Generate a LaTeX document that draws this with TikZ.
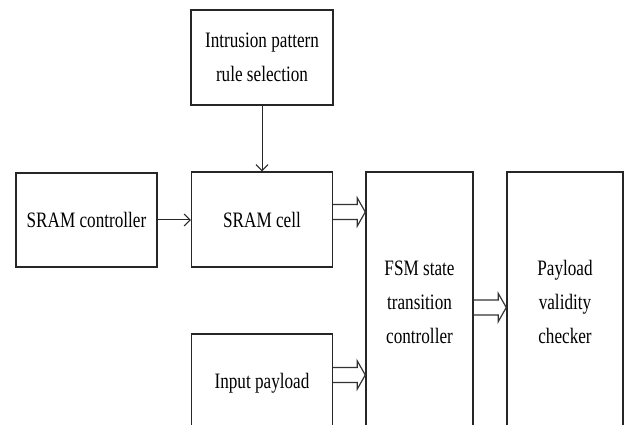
\documentclass[tikz,border=0pt]{standalone}
\usepackage{fontspec}
\setmainfont{Liberation Serif}[FakeStretch=0.78]
\usepackage{tikz}
\usetikzlibrary{positioning, arrows.meta}

\tikzset{
  block/.style={draw=black!85, line width=1.4pt, align=center, inner sep=0pt,
    font=\fontsize{22}{34}\selectfont},
  thinarrow/.style={draw=black!85, line width=1pt, -{Straight Barb[length=6pt,width=12pt]}},
  dblarrow/.style={draw=black!80, line width=1.2pt, line join=miter,
    to path={([yshift=7.5pt]\tikztostart) -- ([xshift=-8pt,yshift=7.5pt]\tikztotarget)
      -- ([xshift=-8pt,yshift=14pt]\tikztotarget) -- (\tikztotarget)
      -- ([xshift=-8pt,yshift=-14pt]\tikztotarget) -- ([xshift=-8pt,yshift=-7.5pt]\tikztotarget)
      -- ([yshift=-7.5pt]\tikztostart)}}
}

\begin{document}
\begin{tikzpicture}[x=1pt, y=-1pt]
  \clip (0,0) rectangle (625,425);
  \fill[white] (0,0) rectangle (625,425);

  % blocks
  \node[block, minimum width=142pt, minimum height=95pt] (rule) at (262,57.5) {Intrusion pattern\\rule selection};
  \node[block, minimum width=141pt, minimum height=94pt] (ctrl) at (86.5,220) {SRAM controller};
  \node[block, minimum width=141pt, minimum height=95pt] (cell) at (262,219.5) {SRAM cell};
  \node[block, minimum width=141pt, minimum height=98pt] (input) at (262,383) {Input payload};
  \node[block, minimum width=107pt, minimum height=260pt] (fsm) at (419.5,302) {FSM state\\transition\\controller};
  \node[block, minimum width=116pt, minimum height=260pt] (check) at (565,302) {Payload\\validity\\checker};

  % single arrows
  \draw[thinarrow] (rule) -- (cell);
  \draw[thinarrow] (ctrl) -- (ctrl -| cell.west);

  % hollow double arrows
  \coordinate (cellout) at ([yshift=7.5pt]cell.east);
  \coordinate (inputout) at ([yshift=8pt]input.east);
  \coordinate (fsmout) at ([yshift=-5.5pt]fsm.east);
  \draw[dblarrow] (cellout) to (cellout -| fsm.west);
  \draw[dblarrow] (inputout) to (inputout -| fsm.west);
  \draw[dblarrow] (fsmout) to (fsmout -| check.west);
\end{tikzpicture}
\end{document}
